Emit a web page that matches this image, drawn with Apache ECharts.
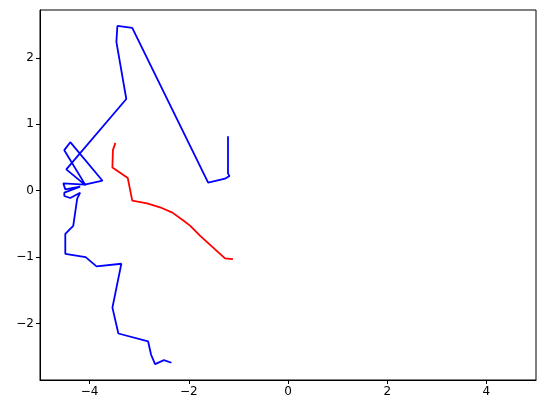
<!DOCTYPE html>
<html>
<head>
<meta charset="utf-8">
<script src="https://cdn.jsdelivr.net/npm/echarts@6/dist/echarts.min.js"></script>
<style>
html,body{margin:0;padding:0;background:#fff;}
#c{width:546px;height:413px;}
</style>
</head>
<body>
<div id="c"></div>
<script>
var blueX = [-1.21,-1.21,-1.18,-1.27,-1.61,-3.14,-3.44,-3.46,-3.26,-4.47,-4.08,-4.51,-4.39,-3.74,-4.10,-4.53,-4.49,-4.19,-4.51,-4.51,-4.39,-4.19,-4.25,-4.33,-4.49,-4.49,-4.08,-3.86,-3.36,-3.54,-3.42,-2.82,-2.76,-2.68,-2.50,-2.35];
var blueY = [0.82,0.26,0.22,0.18,0.12,2.45,2.48,2.24,1.38,0.32,0.08,0.61,0.73,0.15,0.09,0.11,0.02,0.06,-0.03,-0.08,-0.11,-0.03,-0.12,-0.53,-0.65,-0.95,-1.00,-1.14,-1.10,-1.76,-2.15,-2.27,-2.47,-2.61,-2.55,-2.59];
var redX = [-3.48,-3.53,-3.54,-3.23,-3.14,-2.84,-2.58,-2.33,-2.11,-1.97,-1.77,-1.27,-1.11];
var redY = [0.72,0.61,0.35,0.19,-0.15,-0.19,-0.25,-0.33,-0.45,-0.53,-0.68,-1.02,-1.03];
var xTicks = [-4,-2,0,2,4];
var yTicks = [-2,-1,0,1,2];

function pairs(xs, ys){ var o=[]; for(var i=0;i<xs.length;i++) o.push([xs[i], ys[i]]); return o; }
function fmt(v){ return String(v).replace('-', '\u2212'); }

var chart = echarts.init(document.getElementById('c'), null, {renderer:'canvas'});
chart.setOption({
  animation:false,
  backgroundColor:'#fff',
  grid:{left:40, right:10, top:10, bottom:33, show:true, borderColor:'#000', borderWidth:1, containLabel:false},
  xAxis:{
    type:'value', min:-5, max:5,
    axisLine:{show:true, onZero:false, lineStyle:{color:'#000', width:1}},
    axisTick:{show:true, length:4, lineStyle:{color:'#000'}, customValues:xTicks},
    axisLabel:{color:'#000', fontFamily:'DejaVu Sans', fontSize:12, margin:6, customValues:xTicks, formatter:fmt},
    splitLine:{show:false}
  },
  yAxis:{
    type:'value', min:-2.85, max:2.72,
    axisLine:{show:true, onZero:false, lineStyle:{color:'#000', width:1}},
    axisTick:{show:true, length:4, lineStyle:{color:'#000'}, customValues:yTicks},
    axisLabel:{color:'#000', fontFamily:'DejaVu Sans', fontSize:12, margin:6, customValues:yTicks, formatter:fmt},
    splitLine:{show:false}
  },
  series:[
    {type:'line', data:pairs(blueX, blueY), showSymbol:false, symbol:'none', lineStyle:{color:'#0000ff', width:1.8}, itemStyle:{color:'#0000ff'}, clip:true},
    {type:'line', data:pairs(redX, redY), showSymbol:false, symbol:'none', lineStyle:{color:'#ff0000', width:1.8}, itemStyle:{color:'#ff0000'}, clip:true}
  ]
});
</script>
</body>
</html>
